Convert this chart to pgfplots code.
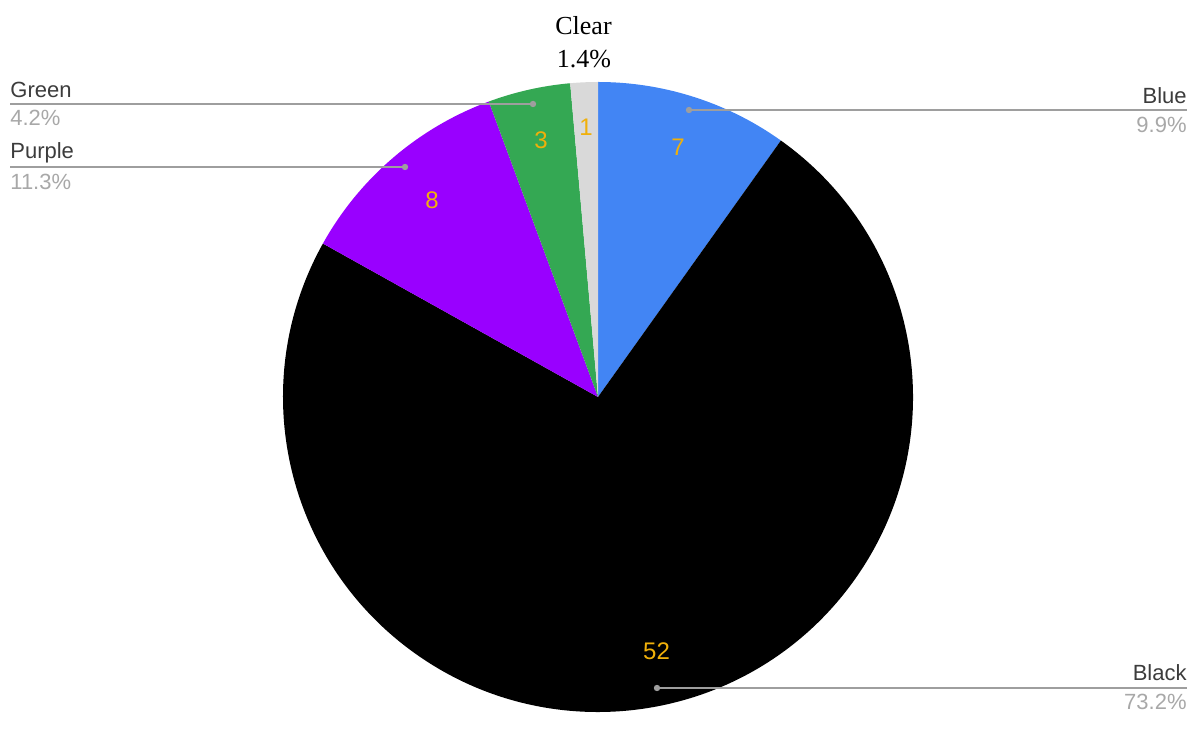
\documentclass[border=0pt]{standalone}
\usepackage{pgfplots}
\pgfplotsset{compat=1.18}
\usepackage{fontspec}
\setmainfont{Liberation Serif}
\newfontfamily\sans{Liberation Sans}
\definecolor{pblue}{HTML}{4285F4}
\definecolor{ppurple}{HTML}{9900FF}
\definecolor{pgreen}{HTML}{34A853}
\definecolor{pclear}{HTML}{D9D9D9}
\definecolor{numc}{RGB}{240,176,10}
\definecolor{namec}{HTML}{3C3C3C}
\definecolor{pctc}{HTML}{A8A8A8}
\definecolor{linec}{HTML}{9E9E9E}
\newcommand\R{157.5pt}
\begin{document}
\begin{tikzpicture}
\begin{axis}[
  scale only axis, width=596.5pt, height=357.5pt,
  xmin=0, xmax=1193, ymin=0, ymax=715,
  hide axis, clip=false]
\path (axis cs:0,0) rectangle (axis cs:1193,715);
% values: Blue 7, Black 52, Purple 8, Green 3, Clear 1 (total 71), clockwise from top
\fill[pblue] (axis cs:598,318) -- ++(90:\R) arc[start angle=90, end angle={90-360/71*7}, radius=\R] -- cycle;
\fill[black] (axis cs:598,318) -- ++({90-360/71*7}:\R) arc[start angle={90-360/71*7}, end angle={90-360/71*59}, radius=\R] -- cycle;
\fill[ppurple] (axis cs:598,318) -- ++({90-360/71*59}:\R) arc[start angle={90-360/71*59}, end angle={90-360/71*67}, radius=\R] -- cycle;
\fill[pgreen] (axis cs:598,318) -- ++({90-360/71*67}:\R) arc[start angle={90-360/71*67}, end angle={90-360/71*70}, radius=\R] -- cycle;
\fill[pclear] (axis cs:598,318) -- ++({90-360/71*70}:\R) arc[start angle={90-360/71*70}, end angle={90-360/71*71}, radius=\R] -- cycle;
% values inside
\tikzset{num/.style={text=numc, inner sep=0pt, font=\sans\fontsize{12}{14}\selectfont}}
\node[num] at (axis cs:678,568) {7};
\node[num] at (axis cs:541,575) {3};
\node[num] at (axis cs:586,588) {1};
\node[num] at (axis cs:432,515) {8};
\node[num] at (axis cs:656.5,64) {52};
% leader lines
\draw[linec, line width=1pt] (axis cs:10,611) -- (axis cs:533,611);
\fill[linec] (axis cs:533,611) circle[radius=1.6pt];
\draw[linec, line width=1pt] (axis cs:10,548) -- (axis cs:405,548);
\fill[linec] (axis cs:405,548) circle[radius=1.6pt];
\draw[linec, line width=1pt] (axis cs:689,605) -- (axis cs:1187,605);
\fill[linec] (axis cs:689,605) circle[radius=1.6pt];
\draw[linec, line width=1pt] (axis cs:657,27) -- (axis cs:1187,27);
\fill[linec] (axis cs:657,27) circle[radius=1.6pt];
% labels
\tikzset{lab/.style={inner sep=0pt, font=\sans\fontsize{11}{13}\selectfont}}
\node[lab, anchor=west, text=namec] at (axis cs:10,625) {Green};
\node[lab, anchor=west, text=pctc] at (axis cs:10,597) {4.2\%};
\node[lab, anchor=west, text=namec] at (axis cs:10,562) {Purple};
\node[lab, anchor=west, text=pctc] at (axis cs:10,533) {11.3\%};
\node[lab, anchor=east, text=namec] at (axis cs:1187,619) {Blue};
\node[lab, anchor=east, text=pctc] at (axis cs:1187,590) {9.9\%};
\node[lab, anchor=east, text=namec] at (axis cs:1187,42) {Black};
\node[lab, anchor=east, text=pctc] at (axis cs:1187,13) {73.2\%};
\node[inner sep=0pt, anchor=base, font=\fontsize{13}{15}\selectfont] at (axis cs:583.5,680) {Clear};
\node[inner sep=0pt, anchor=base, font=\fontsize{13}{15}\selectfont] at (axis cs:584,647) {1.4\%};
\end{axis}
\end{tikzpicture}
\end{document}
